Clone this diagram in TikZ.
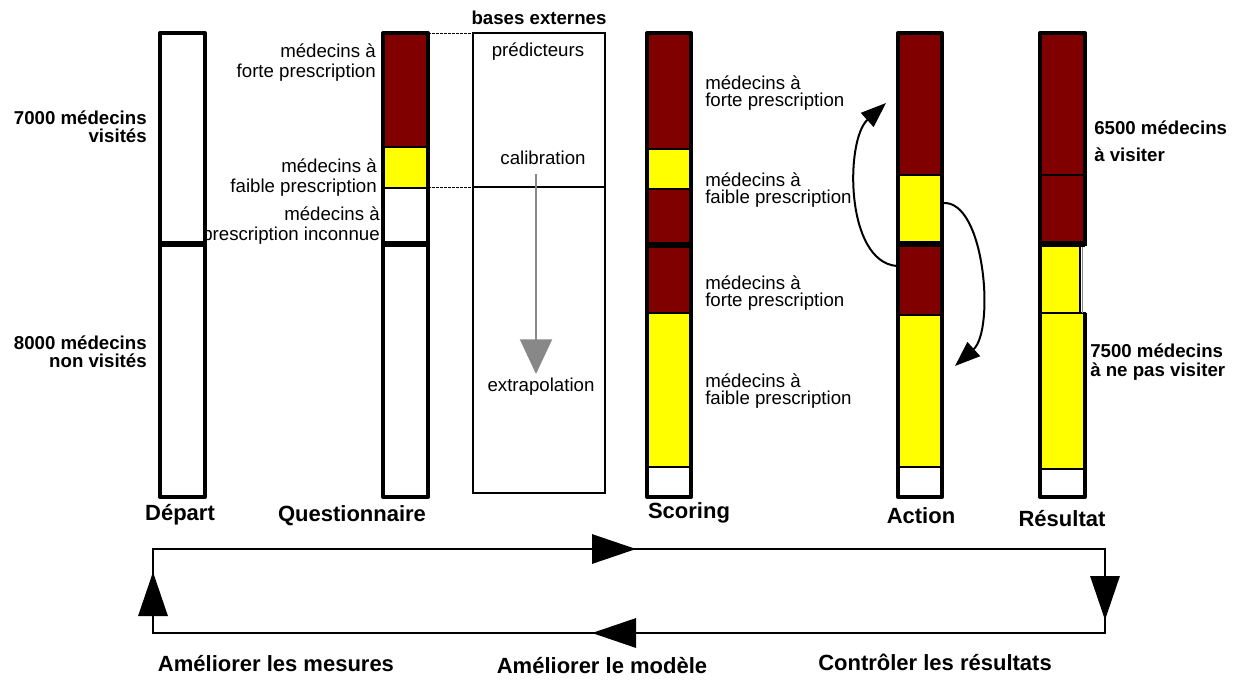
\documentclass[tikz,border=0pt]{standalone}
\usepackage{fontspec}
\setmainfont{Liberation Sans}
\usetikzlibrary{arrows.meta}
\definecolor{forte}{RGB}{128,0,0}
\definecolor{faible}{RGB}{255,255,0}
\definecolor{grisfleche}{RGB}{136,136,136}

\tikzset{
  barre/.style={draw, line width=3pt, line join=round},
  seg/.style={draw, line width=1.5pt},
  sep/.style={line width=4pt},
  lbl/.style={inner sep=0pt, font=\fontsize{14}{15}\selectfont},
  lblserre/.style={inner sep=0pt, anchor=west, align=left, font=\fontsize{14}{12.5}\selectfont},
  chiffre/.style={inner sep=0pt, font=\bfseries\fontsize{14}{13.5}\selectfont},
  etape/.style={inner sep=0pt, font=\bfseries\fontsize{16.5}{18}\selectfont},
  boucle/.style={line width=1.5pt},
  grosse/.style={boucle, -{Triangle[length=33pt,width=22pt]}},
  courbe/.style={line width=1.5pt, -{Triangle[length=19pt,width=14pt]}},
  pointille/.style={line width=0.6pt, dash pattern=on 2pt off 1pt}
}

\begin{document}
\begin{tikzpicture}[x=0.75pt,y=-0.75pt]
\useasboundingbox (0,0) rectangle (1235,679);
%
% Depart
\draw[barre] (160,33) rectangle (205,497);
\draw[sep] (160,244) -- (205,244);
\node[chiffre, anchor=east, align=right] (visites) at (147,127) {7000 médecins\\visités};
\node[chiffre, anchor=east, align=right] (nonvisites) at (147,352) {8000 médecins\\non visités};
%
% Questionnaire
\filldraw[seg, fill=forte] (383,33) rectangle (428,147);
\filldraw[seg, fill=faible] (383,147) rectangle (428,188);
\draw[sep] (383,244) -- (428,244);
\draw[barre] (383,33) rectangle (428,497);
\node[lbl, anchor=east, align=right] (q-forte) at (376,63) {médecins à\\forte prescription};
\node[lbl, anchor=east, align=right] (q-faible) at (377,178) {médecins à\\faible prescription};
\node[lbl, anchor=east, align=right] (q-inconnue) at (380,226) {médecins à\\prescription inconnue};
%
% bases externes
\draw[line width=1.5pt] (473,33) rectangle (605,493);
\draw[line width=1.5pt] (473,187) -- (605,187);
\draw[pointille] (428,33) -- (473,33);
\draw[pointille] (428,187) -- (473,187);
\node[chiffre] (bases) at (539,18) {bases externes};
\node[lbl] (predicteurs) at (538,52) {prédicteurs};
\node[lbl] (calibration) at (543,158) {calibration};
\node[lbl] (extrapolation) at (541,387) {extrapolation};
\coordinate (g-haut) at (536,174);
\coordinate (g-bas) at (536,374);
\draw[grisfleche, line width=1.5pt, -{Triangle[length=26pt,width=24pt]}] (g-haut) -- (g-bas);
%
% Scoring
\filldraw[seg, fill=forte] (647,33) rectangle (691,149);
\filldraw[seg, fill=faible] (647,149) rectangle (691,189);
\filldraw[seg, fill=forte] (647,189) rectangle (691,245);
\filldraw[seg, fill=forte] (647,245) rectangle (691,313);
\filldraw[seg, fill=faible] (647,313) rectangle (691,467);
\draw[sep, line width=5pt] (647,245) -- (691,245);
\draw[barre] (647,33) rectangle (691,497);
\node[lblserre] (s-forte1) at (705,93) {médecins à\\forte prescription};
\node[lblserre] (s-faible1) at (705,190) {médecins à\\faible prescription};
\node[lblserre] (s-forte2) at (705,293) {médecins à\\forte prescription};
\node[lblserre] (s-faible2) at (705,391) {médecins à\\faible prescription};
%
% Action
\filldraw[seg, fill=forte] (898,33) rectangle (942,175);
\filldraw[seg, fill=faible] (898,175) rectangle (942,244);
\filldraw[seg, fill=forte] (898,244) rectangle (942,315);
\filldraw[seg, fill=faible] (898,315) rectangle (942,467);
\draw[sep] (898,244) -- (942,244);
\draw[barre] (898,33) rectangle (942,497);
\coordinate (a-gauche) at (897,266);
\coordinate (a-haut) at (886,103);
\coordinate (a-droite) at (943,203);
\coordinate (a-bas) at (955,366);
\draw[courbe] (a-gauche) .. controls (845,262) and (845,140) .. (a-haut);
\draw[courbe] (a-droite) .. controls (985,200) and (995,330) .. (a-bas);
%
% Resultat
\filldraw[seg, fill=forte] (1040,33) rectangle (1085,175);
\filldraw[seg, fill=forte] (1040,175) rectangle (1085,244);
\filldraw[seg, fill=faible] (1040,244) rectangle (1080,313);
\filldraw[seg, fill=faible] (1040,313) rectangle (1085,469);
\draw[grisfleche, line width=0.6pt] (1082,246) -- (1082,313);
\draw[sep] (1040,244) -- (1085,244);
\draw[barre] (1085,246) -- (1085,33) -- (1040,33) -- (1040,497) -- (1085,497) -- (1085,313);
\node[chiffre, anchor=west, align=left, font=\bfseries\fontsize{14}{20}\selectfont] (avisiter) at (1094,141) {6500 médecins\\à visiter};
\node[chiffre, anchor=west, align=left, font=\bfseries\fontsize{14}{14}\selectfont] (nepasvisiter) at (1090,362) {7500 médecins\\à ne pas visiter};
%
% etapes
\node[etape] (depart) at (180,515) {Départ};
\node[etape] (questionnaire) at (352,516) {Questionnaire};
\node[etape] (scoring) at (689,513) {Scoring};
\node[etape] (action) at (921,516) {Action};
\node[etape] (resultat) at (1062,519) {Résultat};
%
% boucle
\coordinate (c1) at (153,549);
\coordinate (c2) at (1105,549);
\coordinate (c3) at (1105,633);
\coordinate (c4) at (153,633);
\coordinate (t1) at (636,549);
\coordinate (t2) at (1105,620);
\coordinate (t3) at (592,633);
\coordinate (t4) at (153,572);
\draw[boucle] (c1) -- (c2) -- (c3) -- (c4) -- cycle;
\draw[grosse] (c1) -- (t1);
\draw[grosse] (c2) -- (t2);
\draw[grosse] (c3) -- (t3);
\draw[grosse] (c4) -- (t4);
\node[etape] (mesures) at (276,664) {Améliorer les mesures};
\node[etape] (modele) at (602,666) {Améliorer le modèle};
\node[etape] (controle) at (935,662) {Contrôler les résultats};
%
\end{tikzpicture}
\end{document}
